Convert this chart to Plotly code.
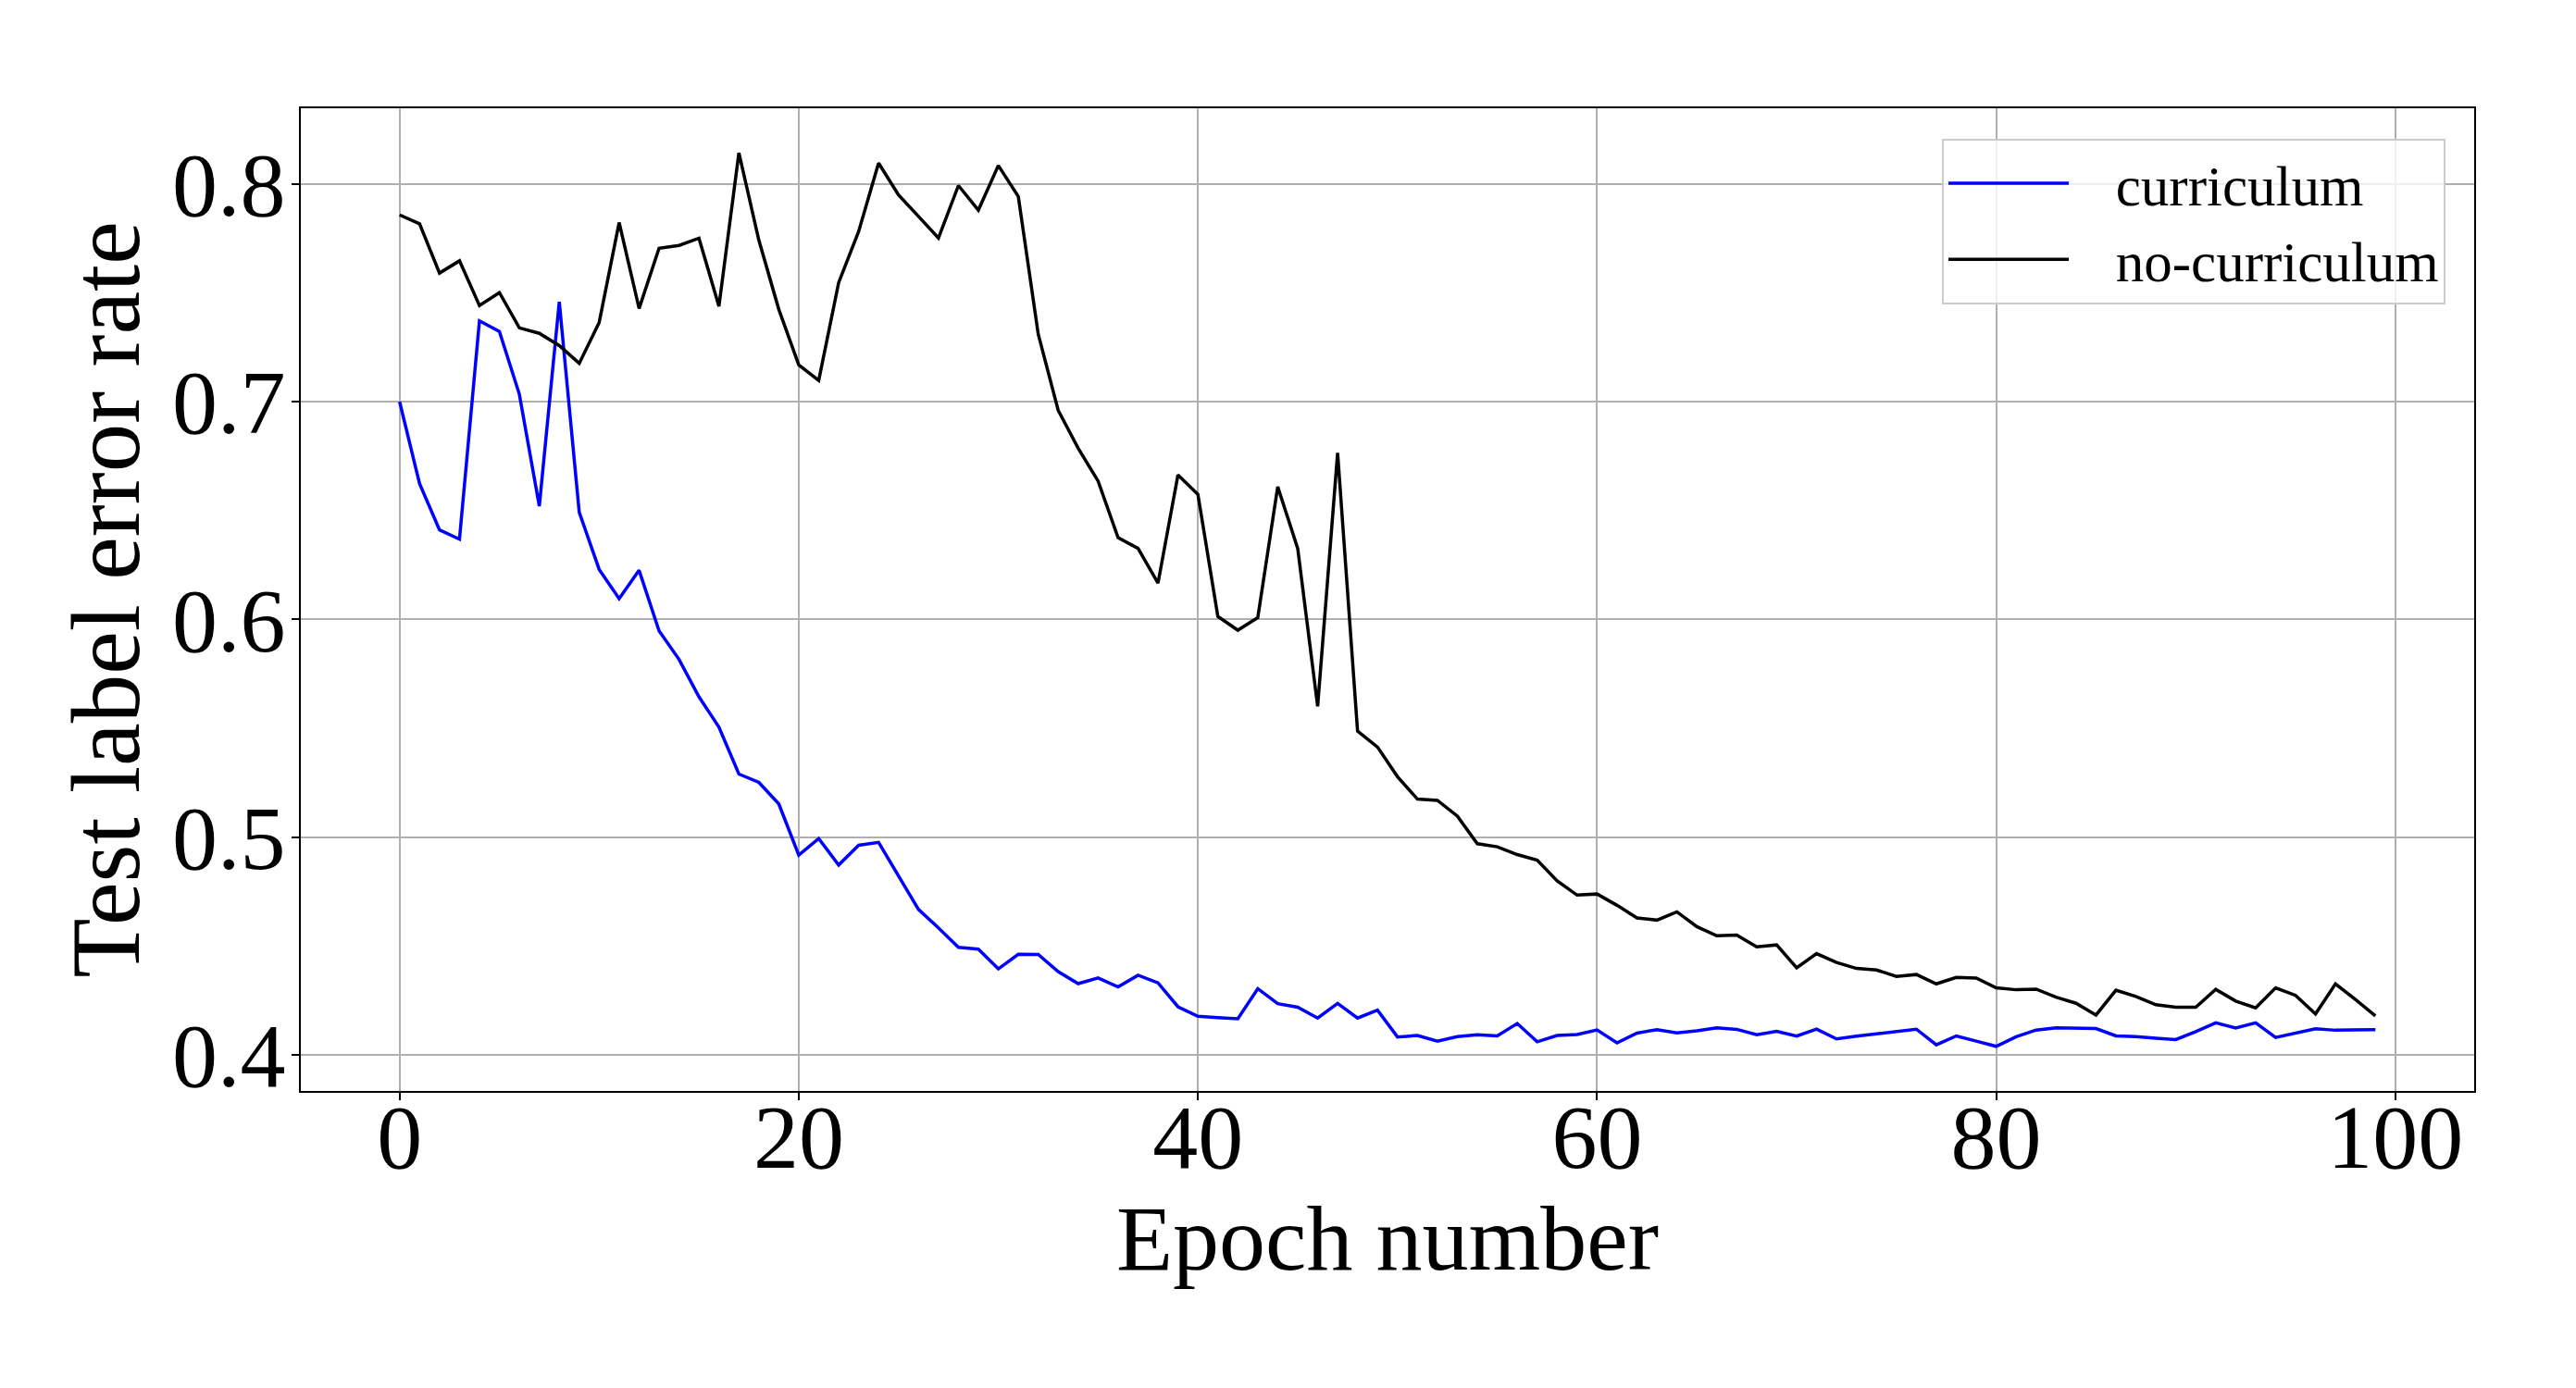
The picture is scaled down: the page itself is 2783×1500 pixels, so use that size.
import plotly.graph_objects as go

epochs = list(range(100))

curriculum = [
    0.7000, 0.6623, 0.6411, 0.6368, 0.7371, 0.7323, 0.7034, 0.6520, 0.7459, 0.6492,
    0.6229, 0.6095, 0.6225, 0.5947, 0.5816, 0.5644, 0.5505, 0.5289, 0.5251, 0.5152,
    0.4917, 0.4993, 0.4871, 0.4962, 0.4975, 0.4818, 0.4667, 0.4582, 0.4493, 0.4485,
    0.4394, 0.4461, 0.4460, 0.4381, 0.4326, 0.4352, 0.4311, 0.4365, 0.4330, 0.4220,
    0.4176, 0.4170, 0.4165, 0.4303, 0.4234, 0.4218, 0.4168, 0.4235, 0.4168, 0.4204,
    0.4081, 0.4088, 0.4062, 0.4083, 0.4091, 0.4086, 0.4143, 0.4059, 0.4088, 0.4092,
    0.4113, 0.4054, 0.4099, 0.4115, 0.4100, 0.4109, 0.4123, 0.4116, 0.4091, 0.4107,
    0.4085, 0.4117, 0.4072, 0.4085, 0.4095, 0.4106, 0.4117, 0.4045, 0.4086, 0.4062,
    0.4038, 0.4082, 0.4113, 0.4123, 0.4120, 0.4120, 0.4086, 0.4083, 0.4075, 0.4069,
    0.4106, 0.4146, 0.4122, 0.4146, 0.4079, 0.4099, 0.4119, 0.4112, 0.4112, 0.4115,
]

no_curriculum = [
    0.7858, 0.7817, 0.7591, 0.7647, 0.7442, 0.7501, 0.7339, 0.7314, 0.7258, 0.7176,
    0.7364, 0.7823, 0.7428, 0.7705, 0.7718, 0.7751, 0.7438, 0.8143, 0.7742, 0.7424,
    0.7169, 0.7098, 0.7547, 0.7782, 0.8096, 0.7950, 0.7851, 0.7752, 0.7993, 0.7880,
    0.8085, 0.7943, 0.7310, 0.6960, 0.6786, 0.6635, 0.6375, 0.6326, 0.6166, 0.6663,
    0.6574, 0.6013, 0.5950, 0.6008, 0.6609, 0.6326, 0.5600, 0.6765, 0.5486, 0.5413,
    0.5277, 0.5174, 0.5168, 0.5096, 0.4969, 0.4955, 0.4919, 0.4894, 0.4798, 0.4733,
    0.4738, 0.4686, 0.4628, 0.4618, 0.4656, 0.4588, 0.4546, 0.4549, 0.4495, 0.4504,
    0.4399, 0.4464, 0.4423, 0.4396, 0.4389, 0.4359, 0.4368, 0.4325, 0.4355, 0.4352,
    0.4307, 0.4298, 0.4301, 0.4264, 0.4236, 0.4182, 0.4296, 0.4267, 0.4229, 0.4218,
    0.4218, 0.4300, 0.4246, 0.4215, 0.4307, 0.4272, 0.4187, 0.4325, 0.4253, 0.4178,
]

series_names = ["curriculum", "no-curriculum"]
x_ticks = [0, 20, 40, 60, 80, 100]
y_ticks = [0.4, 0.5, 0.6, 0.7, 0.8]
y_tick_labels = ["0.4", "0.5", "0.6", "0.7", "0.8"]

FONT = "Liberation Serif, DejaVu Serif, serif"
GAP = "\u00a0\u00a0\u00a0"

fig = go.Figure()
fig.add_trace(go.Scatter(x=epochs, y=curriculum, mode="lines", name=GAP + series_names[0],
                         line=dict(color="#0000ff", width=3.5)))
fig.add_trace(go.Scatter(x=epochs, y=no_curriculum, mode="lines", name=GAP + series_names[1],
                         line=dict(color="#000000", width=3.5)))

axis_common = dict(
    showline=True, linecolor="black", linewidth=2, mirror=True,
    showgrid=True, gridcolor="#b0b0b0", gridwidth=2,
    ticks="outside", ticklen=8, tickwidth=2, tickcolor="black",
    zeroline=False,
    tickfont=dict(family=FONT, size=98, color="black"),
)

fig.update_layout(
    width=2783, height=1500,
    paper_bgcolor="white", plot_bgcolor="white",
    margin=dict(l=325, r=110, t=117, b=321),
    font=dict(family=FONT, color="black"),
    xaxis=dict(range=[-4.95, 103.95], tickmode="array", tickvals=x_ticks,
               ticklabelstandoff=-45,
               title=dict(text="Epoch number", font=dict(family=FONT, size=100, color="black"),
                          standoff=10),
               **axis_common),
    yaxis=dict(range=[0.3833, 0.8348], tickmode="array", tickvals=y_ticks,
               ticktext=y_tick_labels, ticklabelstandoff=-13,
               title=dict(text="Test label error rate", font=dict(family=FONT, size=105, color="black"),
                          standoff=0),
               **axis_common),
    legend=dict(x=0.9868, y=0.969, xanchor="right", yanchor="top",
                bgcolor="rgba(255,255,255,0.8)", bordercolor="#cccccc", borderwidth=2,
                font=dict(family=FONT, size=61, color="black"),
                itemwidth=130, tracegroupgap=0),
    showlegend=True,
)

fig.write_html("out.html")
